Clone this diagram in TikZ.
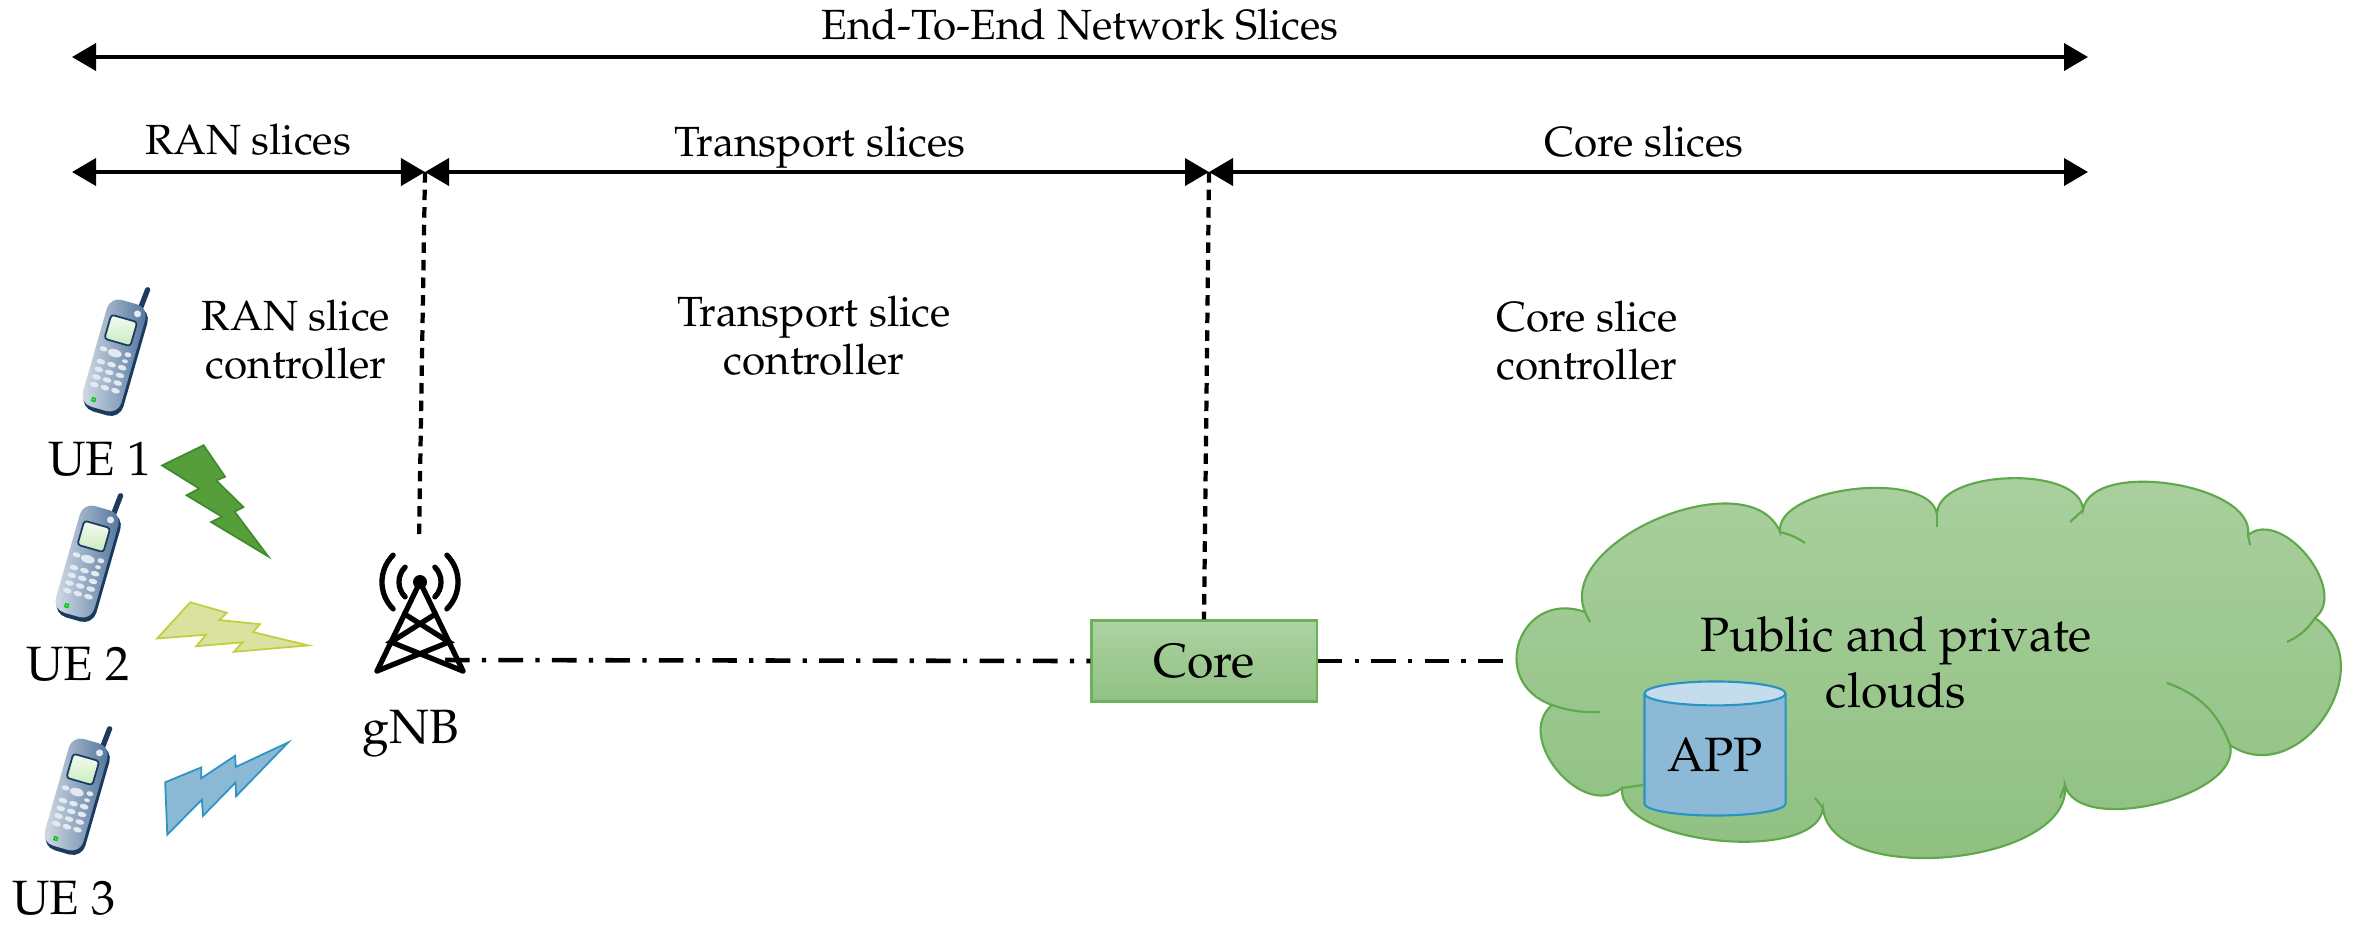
\documentclass[tikz,border=0pt]{standalone}
\usepackage[T1]{fontenc}
\usepackage{mathpazo}
\usetikzlibrary{arrows.meta, shapes.geometric}

\definecolor{coretop}{HTML}{ADD2A1}
\definecolor{corebot}{HTML}{90C183}
\definecolor{coreline}{HTML}{6DB05C}
\definecolor{cloudtop}{HTML}{AAD09F}
\definecolor{cloudbot}{HTML}{8DBF7F}
\definecolor{cloudline}{HTML}{5FA84B}
\definecolor{apptop}{HTML}{C4DCEB}
\definecolor{appbody}{HTML}{8BB9D6}
\definecolor{appline}{HTML}{2A93C3}
\definecolor{phonenavy}{HTML}{1B3A5E}
\definecolor{phonelight}{HTML}{D6DEE7}
\definecolor{phonedark}{HTML}{4F739C}
\definecolor{phonekey}{HTML}{E3E9F0}
\definecolor{screentop}{HTML}{F4FBF1}
\definecolor{screenbot}{HTML}{C9EBBE}
\definecolor{boltgreen}{HTML}{559E3A}
\definecolor{boltgreenline}{HTML}{3F8B2D}
\definecolor{boltyellow}{HTML}{D9E29E}
\definecolor{boltyellowline}{HTML}{C2CE3C}
\definecolor{boltblue}{HTML}{8BB8D4}
\definecolor{boltblueline}{HTML}{2B95C2}

\begin{document}
\begin{tikzpicture}[
    x=0.01cm, y=-0.01cm,
    txt/.style={font=\fontsize{12}{13.7}\selectfont, align=center, inner sep=0pt},
    bigtxt/.style={font=\fontsize{13.7}{15.9}\selectfont, align=center, inner sep=0pt},
    span/.style={line width=1.1pt, {Triangle[length=0.24cm, width=0.27cm]}-{Triangle[length=0.24cm, width=0.27cm]}},
    ctrl/.style={line width=1.2pt, dash pattern=on 3pt off 2pt},
    link/.style={line width=1.3pt, dash pattern=on 7pt off 3.5pt on 1.2pt off 3.5pt},
    crease/.style={draw=cloudline, line width=0.6pt},
    corebox/.style={draw=coreline, line width=0.6pt, top color=coretop, bottom color=corebot,
        minimum width=2.25cm, minimum height=0.81cm, font=\fontsize{13.7}{15.9}\selectfont},
    appdb/.style={cylinder, shape border rotate=90, aspect=0.25, draw=appline, line width=0.6pt,
        cylinder uses custom fill, cylinder body fill=appbody, cylinder end fill=apptop,
        minimum width=1.41cm, minimum height=1.34cm, inner sep=0pt, font=\fontsize{13.7}{15.9}\selectfont},
    pics/bolt/.style={code={
        \path[#1, line width=0.5pt, line join=miter]
          (0.3916,0) -- (0,0.1816) -- (0.3502,0.3896) -- (0.2311,0.45)
          -- (0.5647,0.6437) -- (0.4624,0.6914) -- (1,1) -- (0.6837,0.5977)
          -- (0.7666,0.5563) -- (0.5106,0.3167) -- (0.594,0.2833) -- cycle;
    }},
    pics/handset/.style={code={
        % antenna
        \draw[phonenavy, line width=1.5pt, line cap=round] (12,-50) -- (14,-73);
        % casing with dark rim
        \fill[phonenavy, rounded corners=0.13cm] (-18,-54) rectangle (23,59);
        \shade[left color=phonelight, right color=phonedark, rounded corners=0.12cm] (-20,-56) rectangle (20,55);
        % speaker and screen
        \fill[phonekey] (11,-47) circle[radius=0.035cm];
        \shadedraw[draw=phonenavy, line width=0.5pt, top color=screentop, bottom color=screenbot,
            rounded corners=0.03cm] (-14,-39) rectangle (13,-14);
        % keypad
        \fill[phonekey] (0,-3) ellipse[x radius=0.07cm, y radius=0.04cm];
        \fill[phonekey] (-12,-4) ellipse[x radius=0.04cm, y radius=0.025cm];
        \fill[phonekey] (13,-5) ellipse[x radius=0.035cm, y radius=0.025cm];
        \fill[phonekey] (12,2) ellipse[x radius=0.03cm, y radius=0.02cm];
        \foreach \r in {0,...,3}
          \foreach \c in {-11,0,11}
            \fill[phonekey] (\c,9+8*\r) ellipse[x radius=0.045cm, y radius=0.026cm];
        % status light
        \draw[green!80!black, line width=0.4pt] (-9,46) rectangle (-6,49);
    }},
]
    \useasboundingbox (0,0) rectangle (2358,929);

    % --- End-to-end span ---
    \coordinate (e2eL) at (72,57);
    \coordinate (e2eR) at (2088,57);
    \draw[span] (e2eL) -- (e2eR);
    \node[txt, anchor=base] (e2e) at (1080,39) {End-To-End Network Slices};

    % --- Domain spans ---
    \coordinate (ranL)  at (72,172);
    \coordinate (j1)    at (425,172);
    \coordinate (j2)    at (1209,172);
    \coordinate (coreR) at (2088,172);
    \draw[span] (ranL) -- (j1);
    \draw[span] (j1) -- (j2);
    \draw[span] (j2) -- (coreR);
    \node[txt, anchor=base] (ranlbl)   at (248,154)  {RAN slices};
    \node[txt, anchor=base] (translbl) at (820,156)  {Transport slices};
    \node[txt, anchor=base] (corelbl)  at (1644,156) {Core slices};

    % --- Slice controllers ---
    \node[txt] (ranctl)   at (296,340)  {RAN slice\\controller};
    \node[txt] (transctl) at (814,336)  {Transport slice\\controller};
    \node[txt] (corectl)  at (1587,341) {Core slice\\controller};

    % --- UEs ---
    \pic[rotate=-16] at (114,356) {handset};
    \node[bigtxt, anchor=base] (ue1) at (100,475) {UE 1};
    \pic[rotate=-16] at (87,562) {handset};
    \node[bigtxt, anchor=base] (ue2) at (78,680) {UE 2};
    \pic[rotate=-16] at (76,795) {handset};
    \node[bigtxt, anchor=base] (ue3) at (64,914) {UE 3};

    % --- Radio links (shift in cm, unit square mapped onto each bolt) ---
    \pic[shift={(1.62cm,-4.45cm)}, x={(1.06cm,0cm)}, y={(0cm,-1.11cm)}] {bolt={draw=boltgreenline, fill=boltgreen}};
    \pic[shift={(1.477cm,-6.24cm)}, x={(1.085cm,0.565cm)}, y={(0.518cm,-0.775cm)}] {bolt={draw=boltyellowline, fill=boltyellow}};
    \pic[shift={(1.493cm,-8.282cm)}, x={(0.403cm,1.185cm)}, y={(0.984cm,-0.323cm)}] {bolt={draw=boltblueline, fill=boltblue}};

    % --- gNB tower ---
    \coordinate (apex) at (420,582);
    \fill (apex) circle[radius=0.07cm];
    \draw[line width=1.5pt, line cap=round, line join=round] (377,671) -- (apex) -- (463,671);
    \draw[line width=1.5pt, line cap=round]
        (404.5,614) -- (449,642) -- (377,671)
        (435.5,614) -- (391,642) -- (463,671);
    \draw[line width=1.5pt, line cap=round]
        (apex) ++(45:0.21cm) arc[start angle=45, end angle=-45, radius=0.21cm]
        (apex) ++(45:0.38cm) arc[start angle=45, end angle=-45, radius=0.38cm]
        (apex) ++(135:0.21cm) arc[start angle=135, end angle=225, radius=0.21cm]
        (apex) ++(135:0.38cm) arc[start angle=135, end angle=225, radius=0.38cm];
    \node[bigtxt, anchor=base] (gnb) at (411,743) {gNB};
    \coordinate (gnbtop)  at (419,541);
    \coordinate (gnbport) at (445,660);

    % --- Core ---
    \node[corebox] (core) at (1204,661) {Core};

    % --- Clouds ---
    \coordinate (cloudW) at (1511,661);
    \path[draw=cloudline, line width=0.6pt, top color=cloudtop, bottom color=cloudbot]
        (1552,705) to[bend left=90, looseness=1.8] (1585,612)
        to[bend left=90, looseness=0.95] (1780,532)
        to[bend left=90, looseness=0.75] (1937,515)
        to[bend left=90, looseness=0.8] (2083,510)
        to[bend left=90, looseness=0.8] (2248,535)
        to[bend left=90, looseness=1.05] (2315,618)
        to[bend left=90, looseness=1.4] (2230,745)
        to[bend left=90, looseness=0.8] (2065,785)
        to[bend left=90, looseness=0.85] (1823,808)
        to[bend left=90, looseness=0.72] (1622,788)
        to[bend left=90, looseness=1.2] (1552,705) -- cycle;
    % folds between the puffs
    \draw[crease] (1552,705) to[bend right=10] (1600,712);
    \draw[crease] (1585,612) -- (1590,622);
    \draw[crease] (1780,532) to[bend left=10] (1805,543);
    \draw[crease] (1937,515) -- (1937,527);
    \draw[crease] (2083,510) -- (2070,522);
    \draw[crease] (2248,535) -- (2250,545);
    \draw[crease] (2315,618) to[bend left=15] (2287,642);
    \draw[crease] (2230,745) to[bend right=25] (2167,683);
    \draw[crease] (2065,785) -- (2060,798);
    \draw[crease] (1823,808) -- (1815,798);
    \draw[crease] (1622,788) -- (1643,785);
    \node[bigtxt] (cloudtxt) at (1896,663) {Public and private\\clouds};
    \node[appdb] (app) at (1715,755) {APP};

    % --- Controller links ---
    \draw[ctrl] (j1) -- (gnbtop);
    \draw[ctrl] (j2) -- (core.north);
    \draw[link] (gnbport) -- (core.west);
    \draw[link] (core.east) -- (cloudW);

\end{tikzpicture}
\end{document}
